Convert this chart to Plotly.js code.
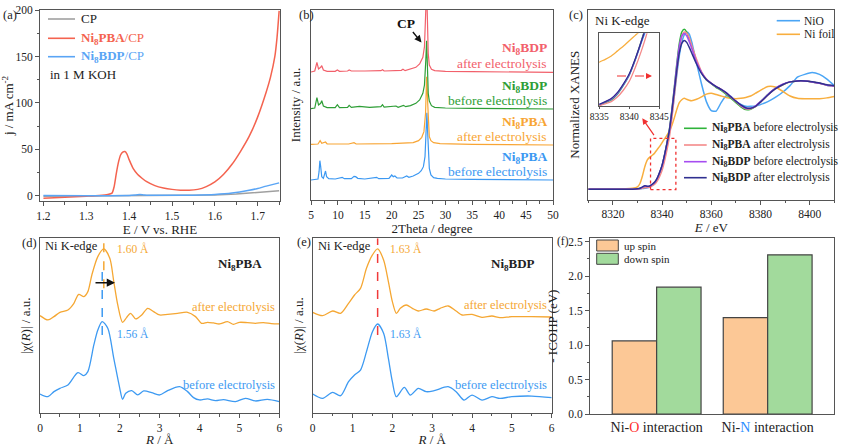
<!DOCTYPE html>
<html><head><meta charset="utf-8">
<script src="https://cdn.plot.ly/plotly-3.0.1.min.js"></script>
<style>html,body{margin:0;padding:0;background:#fff}#chart{width:841px;height:447px}</style>
</head><body><div id="chart"></div>
<script>
// ---------------- DATA ----------------
// (a) LSV
const aPotential   = [1.20,1.25,1.30,1.33,1.35,1.36,1.365,1.37,1.375,1.38,1.385,1.39,1.395,1.40,1.41,1.42,1.43,1.44,1.46,1.48,1.50,1.52,1.54,1.56,1.58,1.60,1.62,1.64,1.66,1.68,1.70,1.72,1.73,1.74,1.745,1.75];
const aCurrentPBA  = [-2.5,-1.5,-0.3,0.5,1.5,3,10,24,36,44,47,47.7,45,39,29,23,19,15.5,11,8.5,7,6.2,6,7,10,15,23,34,48,64,85,112,128,150,170,199];
const aPotentialBDP = [1.20,1.30,1.40,1.415,1.425,1.435,1.45,1.50,1.55,1.60,1.64,1.68,1.70,1.72,1.75];
const aCurrentBDP   = [0.5,0.2,0.3,0.9,1.5,1.0,0.7,0.6,0.8,1.5,3,6,8,10.5,14];
const aPotentialCP  = [1.20,1.30,1.40,1.50,1.55,1.60,1.65,1.70,1.75];
const aCurrentCP    = [-0.5,-0.3,0,0.3,0.5,1,2,3.5,5.5];
const aSeriesNames  = ['CP', '<b>Ni<sub>8</sub>PBA</b>/CP', '<b>Ni<sub>8</sub>BDP</b>/CP'];

// (b) XRD (offset stacked, a.u.)
const bThetaPBAbefore = [5,5.8,6.3,6.5,6.65,6.8,7.0,7.3,7.55,7.7,7.9,8.3,9.5,10.8,11.2,12.5,13.0,13.3,13.7,15,17.2,17.6,19.5,20.0,20.3,20.6,21.0,22,22.8,23.2,24.0,24.5,25.0,25.5,25.9,26.2,26.4,26.55,26.7,26.85,27.0,27.3,27.8,28.5,30,35,40,45,50];
const bIntPBAbefore   = [60,61,63,85,118,100,70,65,78,87,70,64,63,68,64,64,71,70,65,63,68,64,65,75,70,72,66,66,72,68,72,75,80,88,100,130,190,262,200,120,95,75,67,65,63,62,61,61,60];
const bThetaPBAafter  = [5,6.3,6.7,7.0,7.7,8.0,12,13,13.4,20,24,25,25.6,26.0,26.3,26.5,26.7,26.85,27.0,27.3,27.8,29,35,50];
const bIntPBAafter    = [167,168,178,170,174,168,168,172,168,169,172,178,188,205,260,370,290,210,190,178,172,169,167,165];
const bThetaBDPbefore = [5,5.7,6.1,6.4,6.8,7.0,7.3,8,9.5,9.9,10.3,11.8,12.1,12.5,14,15.9,18.0,18.3,18.6,20.8,21.2,22.2,22.6,23.5,24.5,25.2,25.8,26.1,26.35,26.5,26.65,26.8,27.0,27.4,28,30,35,50];
const bIntBDPbefore   = [274,276,307,285,290,298,282,277,277,286,277,278,284,278,281,278,280,286,279,282,278,284,280,283,290,300,320,345,420,478,400,320,297,283,278,276,275,273];
const bThetaBDPafter  = [5,5.7,6.1,6.4,6.8,7.0,7.3,8,9.5,9.9,10.3,11.8,12.1,12.5,15,18.0,18.3,18.6,21.8,22.1,22.5,23.5,24.5,25.2,25.8,26.1,26.3,26.5,26.65,26.8,27.0,27.4,28,30,35,50];
const bIntBDPafter    = [384,387,413,393,398,403,390,386,386,390,386,387,390,387,387,388,391,387,389,392,388,392,398,408,428,460,540,640,540,440,405,392,388,386,385,383];

// (c) XANES
const cEnergy = [8310,8320,8328,8330,8331,8332,8333,8334,8335,8336,8337,8338,8339,8340,8341,8342,8343,8344,8345,8346,8347,8348,8349,8350,8351,8352,8354,8356,8358,8360,8362,8364,8366,8368,8370,8372,8374,8376,8378,8380,8383,8386,8389,8392,8395,8398,8401,8404,8407,8410];
const cNiO      = [0,0,0,0,0.003,0.006,0.01,0.014,0.025,0.043,0.062,0.104,0.168,0.245,0.355,0.48,0.6,0.78,1.0,1.22,1.42,1.56,1.64,1.67,1.65,1.57,1.34,1.12,0.93,0.835,0.83,0.92,0.99,0.985,0.93,0.9,0.88,0.88,0.885,0.9,0.93,0.975,1.03,1.1,1.19,1.22,1.24,1.22,1.17,1.1];
const cNiFoil   = [0,0,0.01,0.025,0.06,0.14,0.24,0.31,0.34,0.36,0.385,0.42,0.455,0.495,0.535,0.575,0.62,0.68,0.76,0.85,0.92,0.95,0.965,0.955,0.945,0.94,0.955,0.98,1.01,1.02,1.005,0.99,0.975,0.965,0.96,0.965,0.975,0.99,1.02,1.05,1.09,1.085,1.04,0.99,0.965,0.96,0.96,0.962,0.97,0.985];
const cPBAbefore = [0,0,0,0.003,0.006,0.012,0.02,0.022,0.028,0.046,0.066,0.108,0.172,0.248,0.36,0.495,0.64,0.85,1.09,1.34,1.55,1.67,1.70,1.67,1.60,1.52,1.36,1.24,1.16,1.12,1.08,1.05,1.01,0.965,0.92,0.875,0.845,0.85,0.88,0.93,1.005,1.07,1.11,1.14,1.15,1.15,1.14,1.125,1.105,1.095];
const cPBAafter  = [0,0,0,0.002,0.005,0.01,0.016,0.018,0.022,0.036,0.052,0.085,0.135,0.2,0.3,0.42,0.56,0.76,1.0,1.25,1.48,1.62,1.67,1.66,1.61,1.53,1.38,1.25,1.17,1.125,1.09,1.06,1.02,0.975,0.93,0.885,0.855,0.855,0.88,0.925,1.0,1.065,1.11,1.14,1.15,1.15,1.14,1.125,1.108,1.097];
const cBDPbefore = [0,0,0,0.003,0.008,0.02,0.034,0.028,0.032,0.05,0.072,0.113,0.176,0.25,0.36,0.49,0.63,0.84,1.08,1.32,1.52,1.63,1.655,1.63,1.57,1.5,1.35,1.24,1.165,1.125,1.09,1.06,1.025,0.98,0.935,0.89,0.86,0.86,0.885,0.93,1.005,1.07,1.115,1.14,1.15,1.15,1.14,1.125,1.105,1.095];
const cBDPafter  = [0,0,0,0.004,0.01,0.024,0.036,0.03,0.034,0.052,0.075,0.117,0.18,0.255,0.365,0.49,0.63,0.83,1.05,1.27,1.45,1.55,1.58,1.56,1.51,1.45,1.33,1.23,1.165,1.125,1.09,1.06,1.025,0.98,0.935,0.895,0.865,0.86,0.88,0.925,1.0,1.065,1.11,1.14,1.15,1.15,1.142,1.128,1.11,1.1];
const cSeriesNames = ['NiO', 'Ni foil', '<b>Ni<sub>8</sub>PBA</b> before electrolysis', '<b>Ni<sub>8</sub>PBA</b> after electrolysis',
  '<b>Ni<sub>8</sub>BDP</b> before electrolysis', '<b>Ni<sub>8</sub>BDP</b> after electrolysis'];

// (d) EXAFS Ni8PBA
const dRafter   = [0,0.2,0.35,0.5,0.7,0.85,0.97,1.1,1.2,1.3,1.45,1.6,1.75,1.85,1.95,2.07,2.17,2.27,2.4,2.55,2.7,2.85,3.0,3.2,3.45,3.7,3.9,4.05,4.2,4.35,4.5,4.7,4.85,5.0,5.2,5.4,5.6,5.8,6.0];
const dChiAfter = [2.93,2.80,2.90,3.03,3.10,3.30,3.57,3.50,3.65,4.15,4.70,4.93,4.65,3.95,3.25,2.73,2.87,3.00,2.83,2.95,3.15,3.05,2.95,2.97,3.00,3.03,2.90,2.70,2.73,2.71,2.68,2.75,2.67,2.73,2.72,2.70,2.72,2.69,2.68];
const dRbefore   = [0,0.2,0.35,0.5,0.7,0.95,1.1,1.2,1.35,1.45,1.56,1.7,1.85,2.0,2.07,2.15,2.3,2.45,2.6,2.8,3.0,3.2,3.5,3.7,3.85,4.0,4.2,4.4,4.6,4.9,5.15,5.4,5.7,6.0];
const dChiBefore = [0.58,0.50,0.65,0.75,0.85,1.22,1.13,1.25,2.05,2.50,2.75,2.55,1.65,0.75,0.42,0.60,0.68,0.55,0.67,0.62,0.55,0.68,0.80,0.65,0.47,0.40,0.43,0.38,0.41,0.35,0.45,0.37,0.42,0.35];
const dPeakAfter = 1.60, dPeakBefore = 1.56;

// (e) EXAFS Ni8BDP
const eRafter   = [0,0.25,0.5,0.7,0.9,1.05,1.2,1.35,1.5,1.63,1.78,1.9,2.0,2.1,2.2,2.35,2.5,2.65,2.85,3.05,3.2,3.4,3.6,3.75,4.0,4.25,4.5,4.7,5.0,5.5,6.0];
const eChiAfter = [3.01,2.91,3.05,2.98,3.28,3.53,3.73,4.33,4.73,4.91,4.58,3.93,3.33,2.98,3.13,3.23,3.13,3.05,3.11,3.05,3.13,3.20,3.05,2.93,2.95,2.86,2.90,2.85,2.88,2.88,2.87];
const eRbefore   = [0,0.25,0.5,0.7,0.9,1.05,1.2,1.35,1.5,1.63,1.78,1.9,2.0,2.1,2.3,2.45,2.65,2.85,3.05,3.4,3.6,3.8,4.0,4.25,4.5,4.7,5.0,5.5,6.0];
const eChiBefore = [0.56,0.43,0.61,0.51,0.93,1.13,1.28,1.83,2.43,2.66,2.38,1.63,0.93,0.48,0.76,0.53,0.73,0.63,0.66,0.78,0.63,0.38,0.53,0.38,0.48,0.43,0.48,0.50,0.45];
const ePeak = 1.63;

// (f) ICOHP
const fCategories = ['Ni-O interaction','Ni-N interaction'];
const fTickText   = ['Ni-<span style="color:#ff2b2b">O</span> interaction','Ni-<span style="color:#2b8cff">N</span> interaction'];
const fSeriesNames = ['up spin', 'down spin'];
const fUpSpin     = [1.06, 1.40];
const fDownSpin   = [1.84, 2.31];

// ---------------- LAYOUT HELPERS ----------------
const W = 841, H = 447;
const px = x => x / W;
const py = y => 1 - y / H;
const FONT = 'Liberation Serif';
const LC = '#555';

function ax(extra) {
  return Object.assign({
    showline: true, mirror: true, linecolor: LC, linewidth: 1,
    showgrid: false, zeroline: false,
    ticks: 'outside', ticklen: 4, tickwidth: 1, tickcolor: LC,
    tickfont: {size: 11.5, color: '#222', family: FONT}
  }, extra);
}
function ttl(text, standoff) { return {text: text, standoff: standoff, font: {size: 13, color: '#222', family: FONT}}; }
function minor(d) { return {dtick: d, ticks: 'outside', ticklen: 2.5, tickcolor: LC, showgrid: false}; }
const noTicks = {ticks: '', showticklabels: false};

const COL = {
  aRed: '#f4634f', aBlue: '#5aa5f5', aGrey: '#a0a0a0',
  bRed: '#f2606b', bGreen: '#2e9e36', bOrange: '#f8a534', bBlue: '#3b98f2',
  cNiO: '#4aa5f5', cFoil: '#f8ae3e', cGreen: '#2fb33a', cPink: '#f48a8a', cPurple: '#a64df0', cNavy: '#303090',
  dOrange: '#f5a733', dBlue: '#3d9af2',
  fUp: '#fcc896', fDown: '#a2da9c'
};

const traces = [];
// (a)
traces.push({x: aPotentialCP, y: aCurrentCP, xaxis: 'x', yaxis: 'y', mode: 'lines', line: {color: COL.aGrey, width: 1.5}, name: 'CP', showlegend: false});
traces.push({x: aPotential, y: aCurrentPBA, xaxis: 'x', yaxis: 'y', mode: 'lines', line: {color: COL.aRed, width: 1.5, shape: 'spline', smoothing: 0.6}, name: 'Ni8PBA/CP', showlegend: false});
traces.push({x: aPotentialBDP, y: aCurrentBDP, xaxis: 'x', yaxis: 'y', mode: 'lines', line: {color: COL.aBlue, width: 1.5, shape: 'spline', smoothing: 0.6}, name: 'Ni8BDP/CP', showlegend: false});
// (b)
[[bThetaPBAbefore, bIntPBAbefore, COL.bBlue], [bThetaPBAafter, bIntPBAafter, COL.bOrange],
 [bThetaBDPbefore, bIntBDPbefore, COL.bGreen], [bThetaBDPafter, bIntBDPafter, COL.bRed]].forEach(s => {
  traces.push({x: s[0], y: s[1], xaxis: 'x2', yaxis: 'y2', mode: 'lines', line: {color: s[2], width: 1.2}, showlegend: false});
});
// (c) main + inset
const cSeries = [[cNiO, COL.cNiO], [cNiFoil, COL.cFoil], [cPBAbefore, COL.cGreen], [cPBAafter, COL.cPink], [cBDPbefore, COL.cPurple], [cBDPafter, COL.cNavy]];
cSeries.forEach(s => {
  traces.push({x: cEnergy, y: s[0], xaxis: 'x3', yaxis: 'y3', mode: 'lines', line: {color: s[1], width: 1.5, shape: 'spline', smoothing: 0.5}, showlegend: false});
});
cSeries.forEach(s => {
  traces.push({x: cEnergy, y: s[0], xaxis: 'x7', yaxis: 'y7', mode: 'lines', line: {color: s[1], width: 1.3, shape: 'spline', smoothing: 0.5}, showlegend: false});
});
// (d)
traces.push({x: dRafter, y: dChiAfter, xaxis: 'x4', yaxis: 'y4', mode: 'lines', line: {color: COL.dOrange, width: 1.3, shape: 'spline', smoothing: 0.8}, showlegend: false});
traces.push({x: dRbefore, y: dChiBefore, xaxis: 'x4', yaxis: 'y4', mode: 'lines', line: {color: COL.dBlue, width: 1.3, shape: 'spline', smoothing: 0.8}, showlegend: false});
// (e)
traces.push({x: eRafter, y: eChiAfter, xaxis: 'x5', yaxis: 'y5', mode: 'lines', line: {color: COL.dOrange, width: 1.3, shape: 'spline', smoothing: 0.8}, showlegend: false});
traces.push({x: eRbefore, y: eChiBefore, xaxis: 'x5', yaxis: 'y5', mode: 'lines', line: {color: COL.dBlue, width: 1.3, shape: 'spline', smoothing: 0.8}, showlegend: false});
// (f)
const fIdx = fCategories.map((c, i) => i);
traces.push({type: 'bar', x: fIdx, y: fUpSpin, xaxis: 'x6', yaxis: 'y6', name: fSeriesNames[0], showlegend: false,
  marker: {color: COL.fUp, line: {color: '#444', width: 1.2}}});
traces.push({type: 'bar', x: fIdx, y: fDownSpin, xaxis: 'x6', yaxis: 'y6', name: fSeriesNames[1], showlegend: false,
  marker: {color: COL.fDown, line: {color: '#444', width: 1.2}}});

// ---------------- ANNOTATIONS ----------------
function txt(x, y, text, o) {
  o = o || {};
  return {xref: 'paper', yref: 'paper', x: px(x), y: py(y), text: text, showarrow: false,
    xanchor: o.xa || 'left', yanchor: 'middle',
    font: {size: o.size || 12, color: o.color || '#222', family: FONT}};
}
const ann = [
  txt(1, 15, '(a)', {size: 12.5}),
  txt(79, 19, aSeriesNames[0], {size: 13}),
  txt(79, 38.3, aSeriesNames[1], {size: 13, color: COL.aRed}),
  txt(79, 56.7, aSeriesNames[2], {size: 13, color: COL.aBlue}),
  txt(48, 74.5, 'in 1 M KOH', {size: 13}),
  txt(297, 15, '(b)', {size: 12.5}),
  txt(549, 49, '<b>Ni<sub>8</sub>BDP</b>', {xa: 'right', size: 13.5, color: COL.bRed}),
  txt(549, 63, 'after electrolysis', {xa: 'right', size: 13.5, color: COL.bRed}),
  txt(549, 86, '<b>Ni<sub>8</sub>BDP</b>', {xa: 'right', size: 13.5, color: COL.bGreen}),
  txt(549, 100, 'before electrolysis', {xa: 'right', size: 13.5, color: COL.bGreen}),
  txt(549, 123, '<b>Ni<sub>8</sub>PBA</b>', {xa: 'right', size: 13.5, color: COL.bOrange}),
  txt(549, 137, 'after electrolysis', {xa: 'right', size: 13.5, color: COL.bOrange}),
  txt(549, 157, '<b>Ni<sub>8</sub>PBA</b>', {xa: 'right', size: 13.5, color: COL.bBlue}),
  txt(549, 171, 'before electrolysis', {xa: 'right', size: 13.5, color: COL.bBlue}),
  {xref: 'paper', yref: 'paper', x: px(421.5), y: py(42.5), ax: -16, ay: -19.5, text: '<b>CP</b>', showarrow: true,
    arrowhead: 2, arrowsize: 1, arrowwidth: 1.4, arrowcolor: '#111', font: {size: 13.5, color: '#111', family: FONT}},
  txt(567, 15, '(c)', {size: 12.5}),
  txt(593, 20, 'Ni K-edge', {size: 13}),
  txt(801.5, 20.7, cSeriesNames[0], {size: 11.5}),
  txt(801.5, 34.3, cSeriesNames[1], {size: 11.5}),
  txt(710, 128.3, cSeriesNames[2], {size: 11.5}),
  txt(710, 145, cSeriesNames[3], {size: 11.5}),
  txt(710, 161.7, cSeriesNames[4], {size: 11.5}),
  txt(710, 177.7, cSeriesNames[5], {size: 11.5}),
  {xref: 'paper', yref: 'paper', x: px(642.3), y: py(118.3), ax: 12.7, ay: 18.4, text: '', showarrow: true,
    arrowhead: 2, arrowsize: 1, arrowwidth: 1.2, arrowcolor: '#f03030'},
  {xref: 'paper', yref: 'paper', x: px(652), y: py(76), ax: -6, ay: 0, text: '', showarrow: true,
    arrowhead: 2, arrowsize: 1, arrowwidth: 1.2, arrowcolor: '#f03030'},
  txt(20, 243, '(d)', {size: 12.5}),
  txt(43, 246, 'Ni K-edge', {size: 12.5}),
  txt(115, 248, '1.60 Å', {size: 11.5, color: COL.dOrange}),
  txt(115, 333, '1.56 Å', {size: 11.5, color: COL.dBlue}),
  txt(240, 264, '<b>Ni<sub>8</sub>PBA</b>', {xa: 'center', size: 13}),
  txt(277, 307, 'after electrolysis', {xa: 'right', size: 12.5, color: COL.dOrange}),
  txt(277, 385, 'before electrolysis', {xa: 'right', size: 12.5, color: COL.dBlue}),
  {xref: 'paper', yref: 'paper', x: px(115), y: py(282.7), ax: -21, ay: 0, text: '', showarrow: true,
    arrowhead: 2, arrowsize: 1.1, arrowwidth: 1.5, arrowcolor: '#111'},
  txt(295, 242, '(e)', {size: 12.5}),
  txt(316, 246, 'Ni K-edge', {size: 12.5}),
  txt(388, 248, '1.63 Å', {size: 11.5, color: COL.dOrange}),
  txt(388, 333, '1.63 Å', {size: 11.5, color: COL.dBlue}),
  txt(513, 264, '<b>Ni<sub>8</sub>BDP</b>', {xa: 'center', size: 13}),
  txt(549, 305, 'after electrolysis', {xa: 'right', size: 12.5, color: COL.dOrange}),
  txt(549, 385, 'before electrolysis', {xa: 'right', size: 12.5, color: COL.dBlue}),
  txt(571, 241, '(f)', {xa: 'right', size: 11.5}),
  txt(622, 245.7, fSeriesNames[0], {size: 11}),
  txt(622, 258.8, fSeriesNames[1], {size: 11})
];

// ---------------- SHAPES ----------------
function pline(x0, x1, y, color, w, dash) {
  return {type: 'line', xref: 'paper', yref: 'paper', x0: px(x0), x1: px(x1), y0: py(y), y1: py(y),
    line: {color: color, width: w || 1.6, dash: dash || 'solid'}};
}
const shapes = [
  pline(48, 75, 19, COL.aGrey),
  pline(48, 75, 38.3, COL.aRed),
  pline(48, 75, 56.7, COL.aBlue),
  pline(776.7, 800, 20.7, COL.cNiO),
  pline(776.7, 800, 34.3, COL.cFoil),
  pline(684, 706.7, 128.3, COL.cGreen),
  pline(684, 706.7, 145, COL.cPink),
  pline(684, 706.7, 161.7, COL.cPurple),
  pline(684, 706.7, 177.7, COL.cNavy),
  pline(617, 648, 76, '#f03030', 1.2, 'dash'),
  {type: 'rect', xref: 'x3', yref: 'y3', x0: 8335.3, x1: 8345.6, y0: -0.004, y1: 0.54,
    line: {color: '#f03030', width: 1.3, dash: 'dot'}},
  {type: 'line', xref: 'x4', yref: 'y4', x0: dPeakAfter, x1: dPeakAfter, y0: 3.75, y1: 5.25,
    line: {color: COL.dOrange, width: 1.5, dash: 'dash'}},
  {type: 'line', xref: 'x4', yref: 'y4', x0: dPeakBefore, x1: dPeakBefore, y0: 2.35, y1: 4.25,
    line: {color: COL.dBlue, width: 1.5, dash: 'dash'}},
  {type: 'line', xref: 'x5', yref: 'y5', x0: ePeak, x1: ePeak, y0: 2.33, y1: 5.23,
    line: {color: '#f03a3a', width: 1.5, dash: 'dash'}},
  {type: 'rect', xref: 'paper', yref: 'paper', x0: px(596.7), x1: px(618.3), y0: py(251), y1: py(240),
    fillcolor: COL.fUp, line: {color: '#444', width: 1}},
  {type: 'rect', xref: 'paper', yref: 'paper', x0: px(596.7), x1: px(618.3), y0: py(264.3), y1: py(253.3),
    fillcolor: COL.fDown, line: {color: '#444', width: 1}}
];

const layout = {
  width: W, height: H, margin: {l: 0, r: 0, t: 0, b: 0},
  paper_bgcolor: '#fff', plot_bgcolor: 'rgba(0,0,0,0)',
  font: {family: FONT, color: '#222'},
  barmode: 'group', bargap: 0.2, bargroupgap: 0,
  showlegend: false,
  xaxis: ax({domain: [px(40), px(280)], anchor: 'y', range: [1.192, 1.752], dtick: 0.1, tick0: 1.2, tickformat: '.1f',
    minor: minor(0.05), title: ttl('E / V vs. RHE', 3)}),
  yaxis: ax({domain: [py(201), py(10)], anchor: 'x', range: [-5.5, 200], dtick: 50, tick0: 0,
    minor: minor(25), title: ttl('j / mA cm<sup>-2</sup>', 3)}),
  xaxis2: ax({domain: [px(311), px(553)], anchor: 'y2', range: [5, 50], dtick: 5, tick0: 5,
    minor: minor(2.5), title: ttl('2Theta / degree', 3)}),
  yaxis2: ax(Object.assign({domain: [py(200), py(10)], anchor: 'x2', range: [0, 570], title: ttl('Intensity / a.u.', 6)}, noTicks)),
  xaxis3: ax({domain: [px(588.3), px(834.3)], anchor: 'y3', range: [8310, 8410], dtick: 20, tick0: 8320,
    minor: minor(10), title: ttl('<i>E</i> / eV', 3)}),
  yaxis3: ax(Object.assign({domain: [py(199.5), py(10)], anchor: 'x3', range: [-0.11, 1.904], title: ttl('Normalized XANES', 4)}, noTicks)),
  xaxis4: ax({domain: [px(40), px(279.3)], anchor: 'y4', range: [0, 6], dtick: 1, tick0: 0,
    minor: minor(0.5), title: ttl('<i>R</i> / Å', 3)}),
  yaxis4: ax(Object.assign({domain: [py(413.3), py(238.3)], anchor: 'x4', range: [0, 5.25], title: ttl('|χ(<i>R</i>)| / a.u.', 5)}, noTicks)),
  xaxis5: ax({domain: [px(312.7), px(551.7)], anchor: 'y5', range: [0, 6], dtick: 1, tick0: 0,
    minor: minor(0.5), title: ttl('<i>R</i> / Å', 3)}),
  yaxis5: ax(Object.assign({domain: [py(412.7), py(238.3)], anchor: 'x5', range: [0, 5.23], title: ttl('|χ(<i>R</i>)| / a.u.', 5)}, noTicks)),
  xaxis6: ax({domain: [px(590), px(834.3)], anchor: 'y6', range: [-0.6, 1.6], tickvals: fIdx, ticktext: fTickText,
    ticks: '', tickfont: {size: 14, color: '#222', family: FONT}}),
  yaxis6: ax({domain: [py(414), py(238.3)], anchor: 'x6', range: [0, 2.55], dtick: 0.5, tick0: 0, tickformat: '.1f',
    minor: minor(0.25), title: ttl('- ICOHP (eV)', 7)}),
  xaxis7: ax({domain: [px(599.3), px(659.3)], anchor: 'y7', range: [8335, 8345], dtick: 5, tick0: 8335, ticklen: 2,
    tickfont: {size: 9.5, color: '#222', family: FONT}}),
  yaxis7: ax(Object.assign({domain: [py(106), py(33.3)], anchor: 'x7', range: [0.02, 0.55]}, noTicks)),
  annotations: ann,
  shapes: shapes
};

Plotly.newPlot('chart', traces, layout, {displayModeBar: false, staticPlot: true});
</script>
</body></html>
